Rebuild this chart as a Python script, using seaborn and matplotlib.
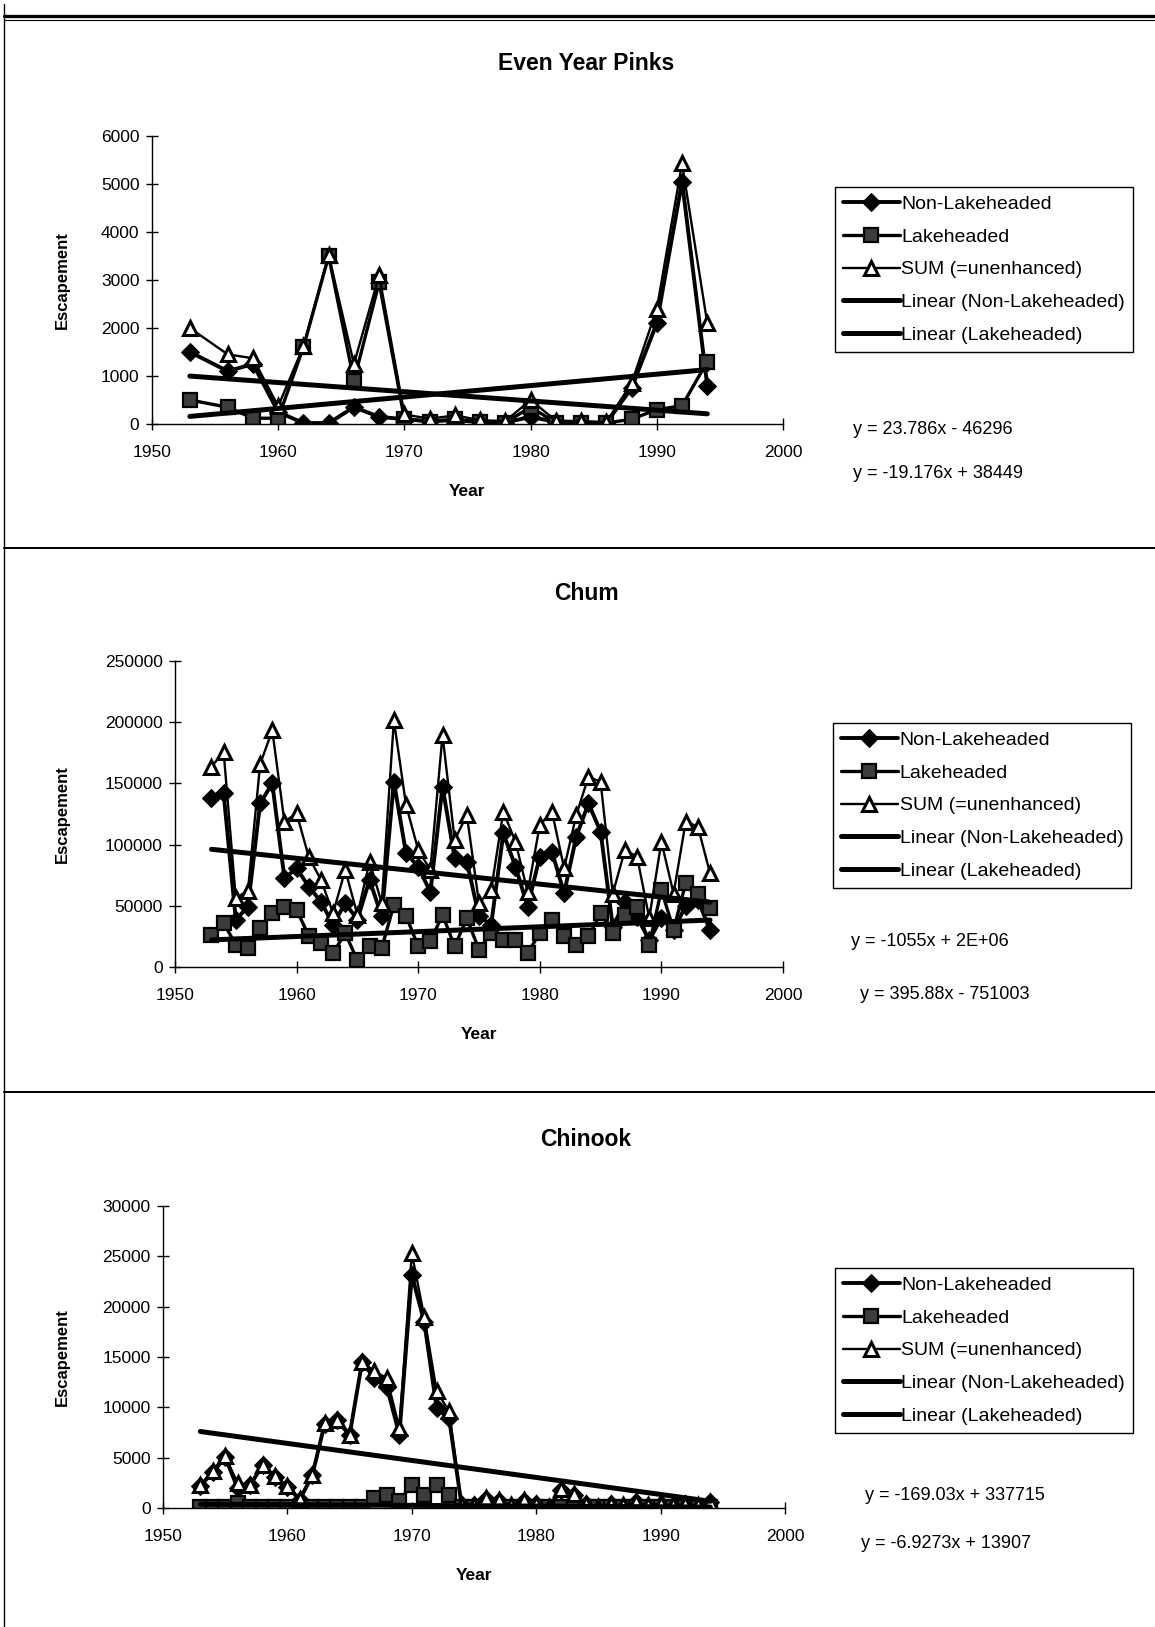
import numpy as np
import pandas as pd
import matplotlib
matplotlib.use("Agg")
import matplotlib.pyplot as plt
import seaborn as sns
from matplotlib.lines import Line2D
from matplotlib.ticker import FuncFormatter, MultipleLocator

sns.set_style("white")
plt.rcParams["font.family"] = ["Liberation Sans", "DejaVu Sans"]
plt.rcParams.update({"text.color": "black", "axes.labelcolor": "black",
                     "xtick.color": "black", "ytick.color": "black"})

# ---- data ----
pink_years = [1953, 1956, 1958, 1960, 1962, 1964, 1966, 1968, 1970, 1972, 1974,
              1976, 1978, 1980, 1982, 1984, 1986, 1988, 1990, 1992, 1994]
pink_non = [1500, 1100, 1250, 250, 20, 20, 350, 150, 100, 60, 80,
            40, 30, 150, 40, 30, 20, 750, 2100, 5050, 800]
pink_lake = [500, 350, 120, 120, 1600, 3500, 900, 2950, 100, 50, 100,
             40, 30, 350, 30, 30, 20, 100, 300, 380, 1300]
pink_sum = [2000, 1450, 1370, 370, 1620, 3520, 1250, 3100, 200, 110, 180,
            80, 60, 500, 70, 60, 40, 850, 2400, 5430, 2100]

chum_years = list(range(1953, 1995))
chum_non = [137800, 141800, 38600, 49400, 133700, 150000, 72500, 80700, 65700, 53500,
            34500, 52200, 38600, 71200, 41300, 151300, 92900, 82000, 61100, 147300,
            88800, 86100, 41300, 34500, 109200, 82000, 49400, 90200, 94300, 60300,
            106500, 133700, 110600, 33000, 53000, 40800, 22000, 40000, 30000, 50200,
            55000, 30000]
chum_lake = [26400, 35900, 18200, 15500, 31800, 44000, 49400, 46700, 25500, 19600,
             11400, 27700, 5400, 16800, 15500, 50800, 41800, 16800, 20900, 42700,
             16800, 39900, 14100, 27700, 22300, 22300, 11400, 27700, 38600, 25000,
             18200, 25000, 44000, 27700, 42700, 49400, 18200, 63000, 30400, 68500,
             59800, 48100]
chum_sum = [163600, 175800, 56200, 62500, 165700, 193400, 118700, 125500, 90000, 71200,
            44000, 79300, 42700, 86100, 52200, 201600, 132300, 95600, 79300, 189400,
            103800, 124200, 52200, 63000, 126900, 102400, 61000, 116000, 126900, 80700,
            124200, 155400, 151300, 60000, 95600, 90200, 40000, 102400, 60000, 118700,
            114700, 76600]

chin_years = list(range(1953, 1995))
chin_non = [2200, 3540, 5030, 1980, 2250, 4250, 3090, 2100, 840, 3250,
            8380, 8710, 7230, 14500, 12900, 12000, 7300, 23150, 18500, 9900,
            8900, 280, 250, 900, 710, 210, 710, 380, 50, 1800,
            1320, 380, 50, 380, 210, 550, 210, 380, 210, 380,
            210, 550]
chin_lake = [100, 100, 100, 500, 50, 50, 50, 50, 50, 50,
             50, 50, 50, 50, 1000, 1300, 700, 2300, 1300, 2300,
             1300, 50, 50, 100, 50, 50, 50, 50, 50, 100,
             100, 50, 50, 50, 50, 50, 50, 50, 50, 50,
             50, 50]
chin_sum = [2300, 3640, 5130, 2480, 2300, 4300, 3140, 2150, 890, 3300,
            8430, 8760, 7280, 14550, 13560, 12900, 7940, 25300, 19000, 11600,
            9590, 330, 300, 1000, 760, 260, 760, 430, 100, 1900,
            1420, 430, 100, 430, 260, 600, 260, 430, 260, 430,
            260, 600]

# trend line coefficients (slope, intercept) as printed on the page
pink_fit_non = (-19.176, 38449)
pink_fit_lake = (23.786, -46296)
chum_fit_non = (-1055, 2156600)   # printed as 2E+06
chum_fit_lake = (395.88, -751003)
chin_fit_non = (-169.03, 337715)
chin_fit_lake = (-6.9273, 13907)

W, H = 1155, 1627
fig = plt.figure(figsize=(W / 100, H / 100), dpi=100)


def box(x0, y0, x1, y1):
    return [x0 / W, 1 - y1 / H, (x1 - x0) / W, (y1 - y0) / H]


def draw_panel(rect, title, title_y, years, non, lake, tot, fit_non, fit_lake,
               ymax, ystep, legend_xy, eqs):
    ax = fig.add_axes(box(*rect))
    df = pd.DataFrame({"Year": years, "Non": non, "Lake": lake, "Sum": tot})

    sns.lineplot(data=df, x="Year", y="Non", ax=ax, color="black", linewidth=2.8,
                 marker="D", markersize=9, markerfacecolor="black",
                 markeredgecolor="black", label="Non-Lakeheaded")
    sns.lineplot(data=df, x="Year", y="Lake", ax=ax, color="black", linewidth=2.4,
                 marker="s", markersize=10, markerfacecolor="#3c3c3c",
                 markeredgecolor="black", markeredgewidth=1.6, label="Lakeheaded")
    sns.lineplot(data=df, x="Year", y="Sum", ax=ax, color="black", linewidth=1.7,
                 marker="^", markersize=10, markerfacecolor="white",
                 markeredgecolor="black", markeredgewidth=2.2, label="SUM (=unenhanced)")

    fit = pd.DataFrame({"Year": [years[0], years[-1]]})
    fit["Non"] = fit_non[0] * fit["Year"] + fit_non[1]
    fit["Lake"] = fit_lake[0] * fit["Year"] + fit_lake[1]
    sns.lineplot(data=fit, x="Year", y="Non", ax=ax, color="black", linewidth=3.6,
                 label="Linear (Non-Lakeheaded)")
    sns.lineplot(data=fit, x="Year", y="Lake", ax=ax, color="black", linewidth=3.6,
                 label="Linear (Lakeheaded)")

    ax.set_xlim(1950, 2000)
    ax.set_ylim(0, ymax)
    ax.xaxis.set_major_locator(MultipleLocator(10))
    ax.yaxis.set_major_locator(MultipleLocator(ystep))
    ax.yaxis.set_major_formatter(FuncFormatter(lambda v, p: "%d" % v))
    sns.despine(ax=ax)
    for s in ["left", "bottom"]:
        ax.spines[s].set_color("black")
        ax.spines[s].set_linewidth(1.0)
    ax.tick_params(axis="both", bottom=True, left=True, direction="inout", length=8,
                   width=1, color="black", labelsize=12.5, labelcolor="black")
    ax.tick_params(axis="x", pad=11)
    ax.tick_params(axis="y", pad=5)

    hpx = rect[3] - rect[1]
    wpx = rect[2] - rect[0]
    ax.set_xlabel("Year", fontsize=12.5, fontweight="bold")
    ax.xaxis.set_label_coords(0.5, -60 / hpx)
    ax.set_ylabel("Escapement", fontsize=12, fontweight="bold")
    ax.yaxis.set_label_coords((70 - rect[0]) / wpx, 0.5)

    leg = ax.legend(loc="upper left", bbox_to_anchor=(legend_xy[0] / W, 1 - legend_xy[1] / H),
                    bbox_transform=fig.transFigure, frameon=True, fancybox=False,
                    edgecolor="black", framealpha=1, fontsize=14, handlelength=2.9,
                    handletextpad=0.1, labelspacing=0.78, borderpad=0.42, borderaxespad=0)
    leg.get_frame().set_linewidth(1.0)

    fig.text(586 / W, 1 - title_y / H, title, ha="center", va="center",
             fontsize=16.5, fontweight="bold")
    for (tx, ty, t) in eqs:
        fig.text(tx / W, 1 - ty / H, t, ha="left", va="center", fontsize=13)
    return ax


draw_panel((152, 136, 783, 424), "Even Year Pinks", 64,
           pink_years, pink_non, pink_lake, pink_sum, pink_fit_non, pink_fit_lake,
           6000, 1000, (835, 187),
           [(853, 429, "y = 23.786x - 46296"), (853, 473, "y = -19.176x + 38449")])

draw_panel((175, 661, 783, 967), "Chum", 593,
           chum_years, chum_non, chum_lake, chum_sum, chum_fit_non, chum_fit_lake,
           250000, 50000, (833, 723),
           [(851, 942, "y = -1055x + 2E+06"), (860, 994, "y = 395.88x - 751003")])

draw_panel((163, 1206, 785, 1508), "Chinook", 1140,
           chin_years, chin_non, chin_lake, chin_sum, chin_fit_non, chin_fit_lake,
           30000, 5000, (835, 1268),
           [(865, 1495, "y = -169.03x + 337715"), (861, 1543, "y = -6.9273x + 13907")])

# page frame of the scanned sheet
def hline(y, x0=4, x1=W, lw=1.5):
    fig.add_artist(Line2D([x0 / W, x1 / W], [1 - y / H, 1 - y / H], color="black", lw=lw))

hline(16, 4, W, 2.4)
hline(20, 4, W, 0.8)
hline(548, 4, W, 1.4)
hline(1092, 4, W, 1.4)
fig.add_artist(Line2D([4 / W, 4 / W], [0, 1 - 4 / H], color="black", lw=1.0))

fig.savefig("out.png", dpi=100, facecolor="white")
